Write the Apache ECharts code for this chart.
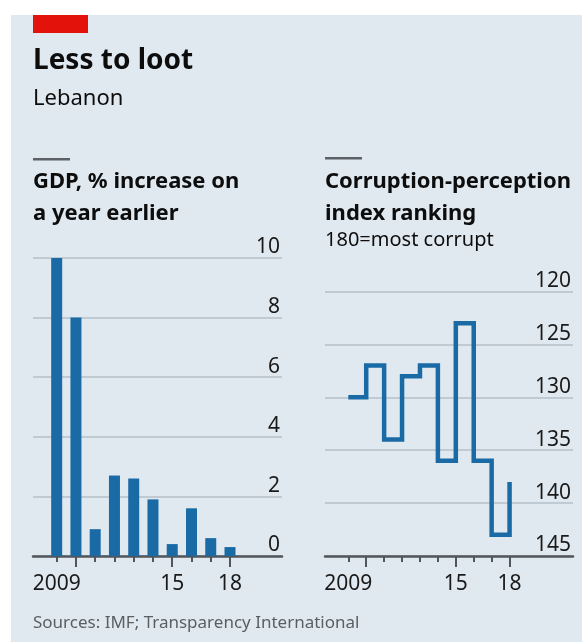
<!DOCTYPE html>
<html>
<head>
<meta charset="utf-8">
<title>Less to loot</title>
<script src="https://cdn.jsdelivr.net/npm/echarts@6/dist/echarts.min.js"></script>
<style>
    html, body { margin: 0; padding: 0; background: #ffffff; }
    #chart { width: 582px; height: 642px; }
</style>
</head>
<body>
<div id="chart"></div>
<script>
// data
var years = [2009, 2010, 2011, 2012, 2013, 2014, 2015, 2016, 2017, 2018];
var gdpGrowth = [10.1, 8.0, 0.9, 2.7, 2.6, 1.9, 0.4, 1.6, 0.6, 0.3];
var cpiRank = [130, 127, 134, 128, 127, 136, 123, 136, 143, 138];
var yearLabels = [2009, 2015, 2018];
var longTicks = [2010, 2015, 2018];

function pairs(xs, ys) {
    var out = [];
    for (var i = 0; i < xs.length; i++) {
        out.push([xs[i], ys[i]]);
    }
    return out;
}

var FONT = '"Noto Sans", Roboto, sans-serif';
var BLUE = '#1a6aa5';
var GRID = '#b4bfc8';
var AXIS = '#50565b';

function yearFormat(v) {
    return v === 2009 ? '2009' : String(v).slice(2);
}

function xAxes(gridIndex, min, max) {
    return [{
        type: 'value',
        gridIndex: gridIndex,
        position: 'bottom',
        min: min,
        max: max,
        axisLine: {show: true, onZero: false, lineStyle: {color: AXIS, width: 2.5}},
        axisTick: {show: true, customValues: years, length: 6, lineStyle: {color: AXIS, width: 2}},
        axisLabel: {
            customValues: yearLabels,
            formatter: yearFormat,
            margin: 18,
            fontFamily: FONT,
            fontSize: 21,
            color: '#1a1a1a'
        },
        splitLine: {show: false}
    }, {
        // longer ticks at a few years, drawn over the same axis
        type: 'value',
        gridIndex: gridIndex,
        position: 'bottom',
        offset: 0,
        min: min,
        max: max,
        axisLine: {show: false, onZero: false},
        axisTick: {show: true, customValues: longTicks, length: 11, lineStyle: {color: AXIS, width: 2}},
        axisLabel: {show: false},
        splitLine: {show: false}
    }];
}

var chart = echarts.init(document.getElementById('chart'), null, {renderer: 'canvas'});

var texts = [
    {x: 33, y: 61, text: 'Less to loot', size: 28, weight: 'bold'},
    {x: 33, y: 99, text: 'Lebanon', size: 22, weight: 'normal'},
    {x: 33, y: 182, text: 'GDP, % increase on', size: 22, weight: 'bold'},
    {x: 33, y: 214, text: 'a year earlier', size: 22, weight: 'bold'},
    {x: 325, y: 182, text: 'Corruption-perception', size: 22, weight: 'bold'},
    {x: 325, y: 214, text: 'index ranking', size: 22, weight: 'bold'},
    {x: 325, y: 240, text: '180=most corrupt', size: 20, weight: 'normal'},
    {x: 33, y: 623, text: 'Sources: IMF; Transparency International', size: 17, weight: 'normal', color: '#5a5f63'}
];

var graphics = [
    {type: 'rect', left: 11, top: 15, z: -10, shape: {width: 571, height: 627}, style: {fill: '#e1e9f0'}},
    {type: 'rect', left: 33, top: 15, shape: {width: 55, height: 18}, style: {fill: '#e3120b'}},
    {type: 'rect', left: 33, top: 158, shape: {width: 37, height: 2.5}, style: {fill: '#5b6166'}},
    {type: 'rect', left: 325, top: 157, shape: {width: 37, height: 2.5}, style: {fill: '#5b6166'}}
];
texts.forEach(function (t) {
    graphics.push({
        type: 'text',
        x: t.x,
        y: t.y,
        style: {
            text: t.text,
            fontFamily: FONT,
            fontSize: t.size,
            fontWeight: t.weight,
            fill: t.color || '#0d0d0d',
            verticalAlign: 'middle'
        }
    });
});

var yLabel = {
    inside: true,
    verticalAlign: 'bottom',
    margin: 2,
    fontFamily: FONT,
    fontSize: 21,
    color: '#1a1a1a'
};

var option = {
    animation: false,
    graphic: graphics,
    grid: [
        {left: 33, right: 300, top: 258, bottom: 86},
        {left: 325, right: 9, top: 291.5, bottom: 86}
    ],
    xAxis: xAxes(0, 2007.77, 2020.7).concat(xAxes(1, 2007.7, 2021.54)),
    yAxis: [{
        type: 'value',
        gridIndex: 0,
        position: 'right',
        min: 0,
        max: 10,
        interval: 2,
        axisLine: {show: false},
        axisTick: {show: false},
        axisLabel: yLabel,
        splitLine: {lineStyle: {color: GRID, width: 1.5}}
    }, {
        type: 'value',
        gridIndex: 1,
        position: 'right',
        inverse: true,
        min: 120,
        max: 145,
        interval: 5,
        axisLine: {show: false},
        axisTick: {show: false},
        axisLabel: yLabel,
        splitLine: {lineStyle: {color: GRID, width: 1.5}}
    }],
    series: [{
        name: 'GDP',
        type: 'bar',
        xAxisIndex: 0,
        yAxisIndex: 0,
        barWidth: 11,
        itemStyle: {color: BLUE},
        data: pairs(years, gdpGrowth)
    }, {
        name: 'CPI ranking',
        type: 'line',
        xAxisIndex: 2,
        yAxisIndex: 1,
        step: 'end',
        symbol: 'none',
        lineStyle: {color: BLUE, width: 4.5, join: 'miter', cap: 'butt'},
        data: pairs(years, cpiRank)
    }]
};

chart.setOption(option);
</script>
</body>
</html>
